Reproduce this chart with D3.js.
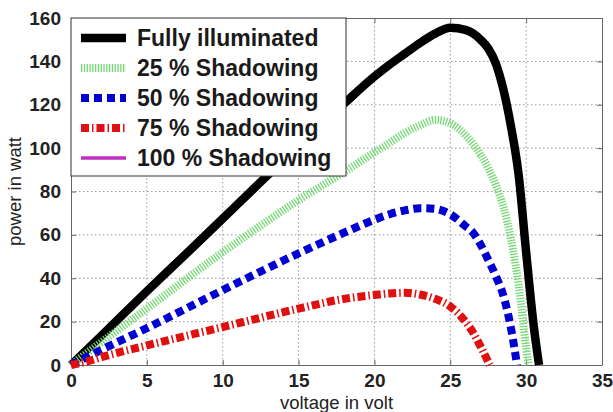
<!DOCTYPE html>
<html>
<head>
<meta charset="utf-8">
<script src="https://cdn.jsdelivr.net/npm/d3@7"></script>
<style>
  body { margin: 0; background: #fff; }
  text { font-family: "Liberation Sans", Arial, sans-serif; }
</style>
</head>
<body>
<script>
const w = 613; // SVG width
const h = 412; // SVG height
const margin = {left: 71, right: 11, top: 18, bottom: 47};

// data
const fullV = [0, 2, 5, 8, 10, 12, 14, 16, 18, 20, 21, 22, 23, 24, 25, 26, 27, 27.5, 28, 28.5, 29, 29.5, 30, 30.5, 30.85];
const fullP = [0, 13.5, 34, 54, 67.5, 81, 94.5, 107.5, 120.5, 133, 138.5, 143.5, 148.5, 152.8, 155.5, 154.5, 150, 146, 139, 127, 110, 88, 52, 18, 0];

const s25V = [0, 2, 5, 10, 15, 18, 20, 21, 22, 23, 24, 25, 26, 27, 28, 28.5, 29, 29.5, 30, 30.15];
const s25P = [0, 10.5, 26, 52, 76, 89, 98, 102.5, 107, 110.5, 113, 111.5, 106, 97, 83, 73, 58, 37, 8, 0];

const s50V = [0, 2, 5, 10, 15, 18, 20, 21, 22, 23, 24, 25, 26, 26.5, 27, 27.5, 28, 28.5, 29, 29.4];
const s50P = [0, 7, 17, 34.5, 51.5, 61, 67, 69.5, 71.3, 72.3, 72, 69.5, 64, 61, 55.5, 48.5, 41, 32, 17, 0];

const s75V = [0, 1, 2, 5, 10, 15, 18, 20, 21, 22, 23, 24, 25, 26, 26.5, 27, 27.6];
const s75P = [0, 1.5, 3.6, 9, 17.5, 26, 30.5, 32.3, 33, 33.3, 32.5, 30.5, 27, 20, 15, 8.5, 0];

const s100V = [0, 0.3];
const s100P = [0, 0];

const legendLabels = ["Fully illuminated", "25 % Shadowing", "50 % Shadowing", "75 % Shadowing", "100 % Shadowing"];
const xTicks = [0, 5, 10, 15, 20, 25, 30, 35];
const yTicks = [0, 20, 40, 60, 80, 100, 120, 140, 160];

// styles for each series (same order as legendLabels)
const styles = [
  {color: "#000000", width: 8.5, dash: null},
  {color: "#72d872", width: 8, dash: "1.3,1.5"},
  {color: "#0000d0", width: 8, dash: "8,5"},
  {color: "#e01010", width: 8, dash: "8,3,1.5,3"},
  {color: "#c030c0", width: 3.5, dash: null}
];
const series = [[fullV, fullP], [s25V, s25P], [s50V, s50P], [s75V, s75P], [s100V, s100P]];

const xScale = d3.scaleLinear().domain([0, 35]).range([margin.left, w - margin.right]);
const yScale = d3.scaleLinear().domain([0, 160]).range([h - margin.bottom, margin.top]);

const svg = d3.select("body").append("svg")
  .attr("width", w)
  .attr("height", h);

// grid
svg.append("g").selectAll("line").data(xTicks.slice(1, -1)).enter().append("line")
  .attr("x1", d => xScale(d)).attr("x2", d => xScale(d))
  .attr("y1", yScale(160)).attr("y2", yScale(0))
  .attr("stroke", "#9a9a9a").attr("stroke-width", 1).attr("stroke-dasharray", "1.5,2.5");
svg.append("g").selectAll("line").data(yTicks.slice(1, -1)).enter().append("line")
  .attr("x1", xScale(0)).attr("x2", xScale(35))
  .attr("y1", d => yScale(d)).attr("y2", d => yScale(d))
  .attr("stroke", "#9a9a9a").attr("stroke-width", 1).attr("stroke-dasharray", "1.5,2.5");

// axes (inward ticks, box style)
const xAxis = d3.axisBottom(xScale).tickValues(xTicks).tickSizeInner(-5).tickSizeOuter(0).tickPadding(9);
const yAxis = d3.axisLeft(yScale).tickValues(yTicks).tickSizeInner(-5).tickSizeOuter(0).tickPadding(10);

svg.append("g")
  .attr("transform", "translate(0," + yScale(0) + ")")
  .call(xAxis);
svg.append("g")
  .attr("transform", "translate(" + xScale(0) + ",0)")
  .call(yAxis);
svg.append("g")
  .attr("transform", "translate(0," + yScale(160) + ")")
  .call(d3.axisTop(xScale).tickValues(xTicks).tickSizeInner(-5).tickSizeOuter(0).tickFormat(""));
svg.append("g")
  .attr("transform", "translate(" + xScale(35) + ",0)")
  .call(d3.axisRight(yScale).tickValues(yTicks).tickSizeInner(-5).tickSizeOuter(0).tickFormat(""));

svg.selectAll(".domain").attr("stroke", "#666");
svg.selectAll(".tick line").attr("stroke", "#666");
svg.selectAll(".tick text")
  .attr("font-size", 19).attr("font-weight", "bold").attr("fill", "#222")
  .style("font-family", "'Liberation Sans', Arial, sans-serif");

// curves
const line = d3.line()
  .x(d => xScale(d[0]))
  .y(d => yScale(d[1]))
  .curve(d3.curveMonotoneX);

const drawOrder = [4, 0, 1, 2, 3];
drawOrder.forEach(i => {
  const pts = series[i][0].map((v, j) => [v, series[i][1][j]]);
  svg.append("path")
    .datum(pts)
    .attr("d", line)
    .attr("fill", "none")
    .attr("stroke", styles[i].color)
    .attr("stroke-width", styles[i].width)
    .attr("stroke-dasharray", styles[i].dash)
    .attr("stroke-linejoin", "round");
});

// legend
const legend = svg.append("g");
legend.append("rect")
  .attr("x", xScale(0)).attr("y", yScale(160))
  .attr("width", 275).attr("height", 158)
  .attr("fill", "#fff").attr("stroke", "#333").attr("stroke-width", 1);

legendLabels.forEach((label, i) => {
  const yy = margin.top + 20 + i * 30;
  legend.append("line")
    .attr("x1", 81).attr("x2", 126)
    .attr("y1", yy).attr("y2", yy)
    .attr("stroke", styles[i].color)
    .attr("stroke-width", styles[i].width)
    .attr("stroke-dasharray", styles[i].dash);
  legend.append("text")
    .attr("x", 137).attr("y", yy)
    .attr("dy", "0.36em")
    .attr("font-size", 23).attr("font-weight", "bold").attr("fill", "#1a1a1a")
    .text(label);
});

// axis labels
svg.append("text")
  .attr("x", (xScale(0) + xScale(35)) / 2).attr("y", 409)
  .attr("text-anchor", "middle")
  .attr("font-size", 18.5).attr("fill", "#222")
  .text("voltage in volt");
svg.append("text")
  .attr("transform", "translate(21," + ((yScale(0) + yScale(160)) / 2) + ") rotate(-90)")
  .attr("text-anchor", "middle")
  .attr("font-size", 18.5).attr("fill", "#222")
  .text("power in watt");
</script>
</body>
</html>
